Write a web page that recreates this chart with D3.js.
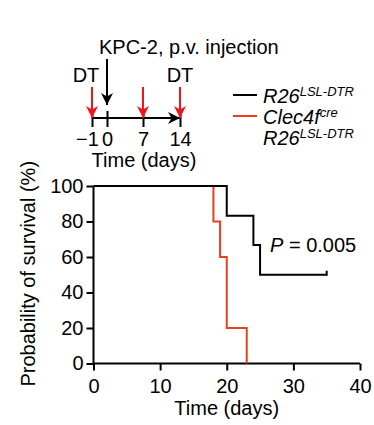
<!DOCTYPE html>
<html>
<head>
<meta charset="utf-8">
<script src="https://cdn.jsdelivr.net/npm/d3@7"></script>
<style>
  body { margin: 0; background: #fff; }
  svg text { font-family: "Liberation Sans", Arial, Helvetica, sans-serif; fill: #000; }
</style>
</head>
<body>
<div id="chart"></div>
<script>
// survival data (Kaplan-Meier steps)
var blackTimes = [0, 20, 24, 25, 35];
var blackSurv = [100, 83.3, 66.7, 50, 50];
var redTimes = [0, 18, 19, 20, 23];
var redSurv = [100, 80, 60, 20, 0];
var censorTimes = [35];
var censorSurv = [50];

var xTicks = [0, 10, 20, 30, 40];
var yTicks = [0, 20, 40, 60, 80, 100];

// schedule schematic
var schedDays = [-1, 0, 7, 14];
var schedLabels = ["\u22121", "0", "7", "14"];
var dtDays = [-1, 7, 14];
var injectDay = [0];

var black = "#000";
var red = "#e8401c";
var arrowRed = "#f2131b";

var width = 374, height = 425;
var svg = d3.select("#chart").append("svg")
    .attr("width", width)
    .attr("height", height);

var defs = svg.append("defs");

// ---------- main plot ----------
var x = d3.scaleLinear().domain([0, 40]).range([93.5, 360]);
var y = d3.scaleLinear().domain([0, 100]).range([363.5, 186]);

var xAxis = svg.append("g")
    .attr("transform", "translate(0," + y(0) + ")")
    .call(d3.axisBottom(x).tickValues(xTicks).tickSize(7).tickPadding(4));
var yAxis = svg.append("g")
    .attr("transform", "translate(" + x(0) + ",0)")
    .call(d3.axisLeft(y).tickValues(yTicks).tickSize(7).tickPadding(3));

[xAxis, yAxis].forEach(function(a) {
  a.select(".domain").attr("stroke", black).attr("stroke-width", 2);
  a.selectAll(".tick line").attr("stroke", black).attr("stroke-width", 2);
  a.selectAll(".tick text").attr("font-size", 20).attr("font-family", null).attr("fill", black);
});
xAxis.selectAll(".tick text").attr("dy", "0.9em");
xAxis.select(".domain").attr("d", "M" + x(0) + ",0H" + x(40));
yAxis.select(".domain").attr("d", "M0," + y(0) + "V" + y(100));

var step = d3.line()
    .x(function(d) { return x(d[0]); })
    .y(function(d) { return y(d[1]); })
    .curve(d3.curveStepAfter);

svg.append("path")
    .datum(d3.zip(redTimes, redSurv))
    .attr("d", step)
    .attr("fill", "none")
    .attr("stroke", red)
    .attr("stroke-width", 2);

svg.append("path")
    .datum(d3.zip(blackTimes, blackSurv))
    .attr("d", step)
    .attr("fill", "none")
    .attr("stroke", black)
    .attr("stroke-width", 2);

svg.selectAll(".censor")
    .data(d3.zip(censorTimes, censorSurv))
    .enter().append("line")
    .attr("x1", function(d) { return x(d[0]); })
    .attr("x2", function(d) { return x(d[0]); })
    .attr("y1", function(d) { return y(d[1]) - 4; })
    .attr("y2", function(d) { return y(d[1]) + 1; })
    .attr("stroke", black)
    .attr("stroke-width", 2);

var ptext = svg.append("text")
    .attr("x", 270)
    .attr("y", 252)
    .attr("font-size", 20);
ptext.append("tspan").attr("font-style", "italic").text("P");
ptext.append("tspan").text(" = 0.005");

svg.append("text")
    .attr("x", (x(0) + x(40)) / 2)
    .attr("y", 415)
    .attr("text-anchor", "middle")
    .attr("font-size", 20)
    .text("Time (days)");

svg.append("text")
    .attr("transform", "translate(35," + ((y(0) + y(100)) / 2 - 1) + ") rotate(-90)")
    .attr("text-anchor", "middle")
    .attr("font-size", 20)
    .text("Probability of survival (%)");

// ---------- schematic ----------
var s = d3.scaleLinear().domain(schedDays).range([92, 107, 143, 180]);
var lineY = 118;

function arrowHead(id, color) {
  defs.append("marker")
      .attr("id", id)
      .attr("viewBox", "0 0 10 10")
      .attr("refX", 10).attr("refY", 5)
      .attr("markerUnits", "userSpaceOnUse")
      .attr("markerWidth", 13).attr("markerHeight", 12)
      .attr("orient", "auto")
    .append("path")
      .attr("d", "M0,0L10,5L0,10L3,5Z")
      .attr("fill", color);
}
arrowHead("headBlack", black);
arrowHead("headRed", arrowRed);

var sAxis = svg.append("g")
    .attr("transform", "translate(0," + lineY + ")")
    .call(d3.axisBottom(s).tickValues(schedDays).tickFormat(function(d, i) { return schedLabels[i]; })
      .tickSize(9).tickPadding(5));
sAxis.select(".domain").remove();
sAxis.selectAll(".tick line").attr("y1", -7).attr("stroke", black).attr("stroke-width", 2);
sAxis.selectAll(".tick text").attr("font-size", 20).attr("font-family", null).attr("fill", black)
    .attr("dx", function(d) { return d === -1 ? -5 : 0; });

svg.append("line")
    .attr("x1", s(-1)).attr("x2", s(14))
    .attr("y1", lineY).attr("y2", lineY)
    .attr("stroke", black).attr("stroke-width", 2)
    .attr("marker-end", "url(#headBlack)");

svg.selectAll(".dt")
    .data(dtDays)
    .enter().append("line")
    .attr("x1", function(d) { return s(d); })
    .attr("x2", function(d) { return s(d); })
    .attr("y1", 87).attr("y2", lineY)
    .attr("stroke", arrowRed).attr("stroke-width", 2)
    .attr("marker-end", "url(#headRed)");

svg.selectAll(".inj")
    .data(injectDay)
    .enter().append("line")
    .attr("x1", function(d) { return s(d); })
    .attr("x2", function(d) { return s(d); })
    .attr("y1", 59).attr("y2", 105)
    .attr("stroke", black).attr("stroke-width", 2)
    .attr("marker-end", "url(#headBlack)");

svg.append("text").attr("x", 86).attr("y", 82).attr("text-anchor", "middle")
    .attr("font-size", 20).text("DT");
svg.append("text").attr("x", 180).attr("y", 82).attr("text-anchor", "middle")
    .attr("font-size", 20).text("DT");
svg.append("text").attr("x", 99).attr("y", 54)
    .attr("font-size", 20).text("KPC-2, p.v. injection");
svg.append("text").attr("x", 144).attr("y", 167).attr("text-anchor", "middle")
    .attr("font-size", 20).text("Time (days)");

// ---------- legend ----------
var legend = svg.append("g");
legend.append("line").attr("x1", 233).attr("x2", 257).attr("y1", 95).attr("y2", 95)
    .attr("stroke", black).attr("stroke-width", 2);
legend.append("line").attr("x1", 233).attr("x2", 257).attr("y1", 116).attr("y2", 116)
    .attr("stroke", red).attr("stroke-width", 2);

function geno(yb, base, sup) {
  var t = legend.append("text").attr("x", 263).attr("y", yb)
      .attr("font-size", 20).attr("font-style", "italic");
  t.append("tspan").text(base);
  t.append("tspan").attr("font-size", 13).attr("dy", -7).text(sup);
}
geno(103, "R26", "LSL-DTR");
geno(124, "Clec4f", "cre");
geno(145, "R26", "LSL-DTR");
</script>
</body>
</html>
